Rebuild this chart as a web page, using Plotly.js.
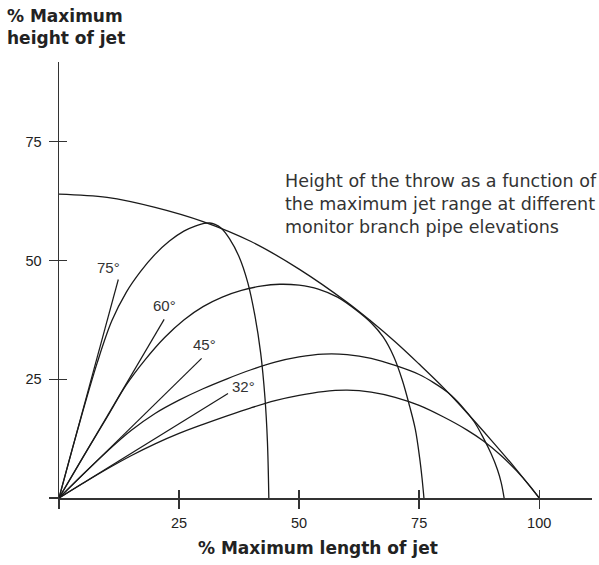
<!DOCTYPE html>
<html>
<head>
<meta charset="utf-8">
<script src="https://cdn.plot.ly/plotly-3.0.1.min.js"></script>
<style>html,body{margin:0;padding:0;background:#fff;}#chart{width:599px;height:565px;}</style>
</head>
<body>
<div id="chart"></div>
<script>
// Envelope curve (maximum height of throw)
const envX = [0, 10, 20, 30, 40, 50, 60, 65, 70, 75, 80, 85, 90, 95, 100];
const envY = [64, 63.3, 61.2, 58.2, 54, 48.2, 41.2, 37.2, 32.9, 28.2, 23.3, 17.9, 12.2, 6.3, 0];

// Trajectories per elevation
const t75X = [0, 4, 8, 11, 14, 17, 20, 23, 26, 28.5, 30.2, 31.4, 32.5, 33.8, 35.5, 37.5, 39.3, 40.8, 42, 42.9, 43.4, 43.7];
const t75Y = [0, 14.8, 28.6, 37.3, 43.3, 47.7, 51.3, 54.1, 56.2, 57.3, 57.8, 57.9, 57.6, 56.8, 54.6, 50.8, 45.4, 38.4, 30.5, 21, 12, 0];

const t60X = [0, 5, 10, 14, 18, 22, 26, 30, 34, 38, 42, 46, 50, 54, 58, 62, 65, 67.5, 69.7, 71.5, 73, 74.2, 75.1, 75.6, 76];
const t60Y = [0, 8.6, 17, 23.8, 29.2, 33.8, 37.5, 40.3, 42.3, 43.7, 44.6, 45, 44.8, 44, 42.3, 39.5, 36.9, 33.9, 29.8, 24.8, 19.4, 14.5, 8.5, 4.2, 0];

const t45X = [0, 5, 10, 15, 20, 25, 30, 35, 40, 45, 50, 55, 60, 65, 70, 75, 78, 81, 84, 86.5, 88.4, 90, 91.3, 92.1, 92.7];
const t45Y = [0, 5, 9.8, 14.2, 17.8, 20.6, 23, 25.1, 27, 28.6, 29.7, 30.3, 30.2, 29.4, 27.9, 26, 24.3, 22.2, 19.2, 16, 12.6, 9.3, 6, 3.2, 0];

const t32X = [0, 5, 10, 15, 20, 25, 30, 35, 40, 45, 50, 55, 60, 65, 70, 75, 80, 85, 88.4, 92, 95.4, 98, 100];
const t32Y = [0, 3.1, 6.1, 8.9, 11.4, 13.6, 15.5, 17.3, 19, 20.5, 21.6, 22.4, 22.7, 22.3, 21.2, 19.5, 17.1, 14.3, 12, 9, 5.6, 2.6, 0];

// Elevation indicator lines (end points) and labels
const angleNames = ['75°', '60°', '45°', '32°'];
const angleEndX = [12.35, 21.9, 29.7, 35.2];
const angleEndY = [46.0, 37.6, 29.4, 22.0];
const labelX = [10.3, 21.9, 30.2, 38.5];
const labelY = [48.6, 40.6, 32.4, 23.4];

const xTickVals = [0, 25, 50, 75, 100];
const xTickText = ['', '25', '50', '75', '100'];
const yTickVals = [0, 25, 50, 75];
const yTickText = ['', '25', '50', '75'];

const lineStyle = {color: '#1a1a1a', width: 1.3, shape: 'spline', smoothing: 1};
const curves = [[envX, envY], [t75X, t75Y], [t60X, t60Y], [t45X, t45Y], [t32X, t32Y]];
const traces = curves.map(c => ({
  x: c[0], y: c[1], type: 'scatter', mode: 'lines', line: lineStyle, hoverinfo: 'skip'
}));

// indicator lines drawn on overlay axes (same ranges)
const lx = [], ly = [];
for (let i = 0; i < angleEndX.length; i++) {
  lx.push(0, angleEndX[i], null);
  ly.push(0, angleEndY[i], null);
}
traces.push({x: lx, y: ly, type: 'scatter', mode: 'lines', xaxis: 'x2', yaxis: 'y2',
  line: {color: '#1a1a1a', width: 1.2}, hoverinfo: 'skip'});

const XR = [0, 111];
const YR = [0, 91.8];
const W = 599, H = 565, ML = 59, MT = 62, MB = 67;
const MR = W - ML - (XR[1] - XR[0]) * 4.8;
const PW = W - ML - MR, PH = H - MT - MB;
const px = p => (p - ML) / PW;
const py = p => (H - MB - p) / PH;

const annotations = [
  {text: '% Maximum<br>height of jet', xref: 'paper', yref: 'paper', x: px(5), y: py(4),
   xanchor: 'left', yanchor: 'top', align: 'left', showarrow: false,
   font: {family: 'DejaVu Sans', size: 17, color: '#222', weight: 'bold'}},
  {text: '% Maximum length of jet', xref: 'paper', yref: 'paper', x: px(318), y: py(536),
   xanchor: 'center', yanchor: 'top', showarrow: false,
   font: {family: 'DejaVu Sans', size: 17, color: '#222', weight: 'bold'}},
  {text: 'Height of the throw as a function of<br>the maximum jet range at different<br>monitor branch pipe elevations',
   xref: 'paper', yref: 'paper', x: px(283), y: py(169), xanchor: 'left', yanchor: 'top', align: 'left',
   showarrow: false, font: {family: 'DejaVu Sans', size: 17.5, color: '#333'}}
];
for (let i = 0; i < angleNames.length; i++) {
  annotations.push({text: angleNames[i], x: labelX[i], y: labelY[i], xref: 'x', yref: 'y',
    showarrow: false, xanchor: 'center', yanchor: 'middle',
    font: {family: 'Liberation Sans', size: 15, color: '#333'}});
}

const axCommon = {showgrid: false, zeroline: false, fixedrange: true};
const layout = {
  width: W, height: H,
  margin: {l: ML, r: MR, t: MT, b: MB, pad: 0},
  paper_bgcolor: '#fff', plot_bgcolor: '#fff', showlegend: false,
  xaxis: Object.assign({}, axCommon, {range: XR, showline: true, linecolor: '#333', linewidth: 1.5,
    tickmode: 'array', tickvals: xTickVals, ticktext: xTickText, ticks: 'outside', ticklen: 9,
    tickwidth: 1.3, tickcolor: '#333', ticklabelstandoff: 2,
    tickfont: {family: 'Liberation Sans', size: 14.5, color: '#222'}}),
  yaxis: Object.assign({}, axCommon, {range: YR, showline: true, linecolor: '#333', linewidth: 1.5,
    tickmode: 'array', tickvals: yTickVals, ticktext: yTickText, ticks: 'outside', ticklen: 9,
    tickwidth: 1.3, tickcolor: '#333', ticklabelstandoff: 4,
    tickfont: {family: 'Liberation Sans', size: 14.5, color: '#222'}}),
  xaxis2: Object.assign({}, axCommon, {range: XR, overlaying: 'x', anchor: 'y2', side: 'bottom',
    showline: false, tickmode: 'array', tickvals: xTickVals.slice(1), ticks: 'inside', ticklen: 8,
    tickwidth: 1.3, tickcolor: '#333', showticklabels: false}),
  yaxis2: Object.assign({}, axCommon, {range: YR, overlaying: 'y', anchor: 'x2', side: 'left',
    showline: false, tickmode: 'array', tickvals: yTickVals.slice(1), ticks: 'inside', ticklen: 8,
    tickwidth: 1.3, tickcolor: '#333', showticklabels: false}),
  annotations: annotations
};

Plotly.newPlot('chart', traces, layout, {displayModeBar: false, staticPlot: true});
</script>
</body>
</html>
